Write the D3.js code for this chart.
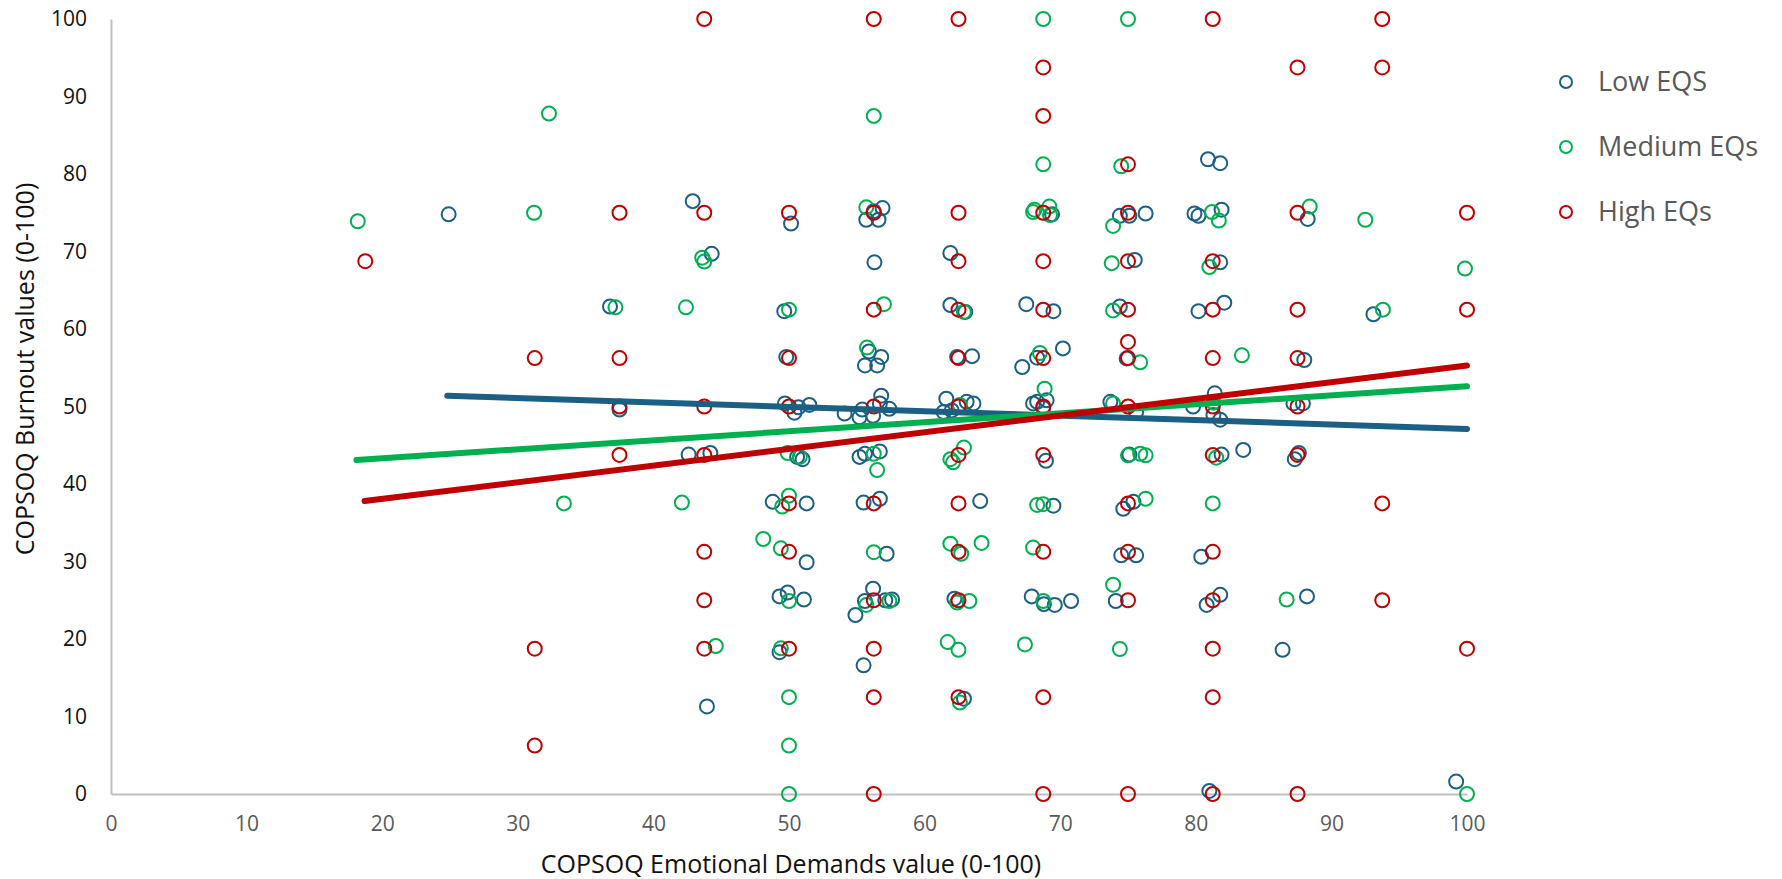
<!DOCTYPE html>
<html>
<head>
<meta charset="utf-8">
<script src="https://cdn.jsdelivr.net/npm/d3@7"></script>
<style>
  body { margin: 0; background: #fff; }
  svg { display: block; font-family: "Open Sans", sans-serif; }
</style>
</head>
<body>
<div id="chart"></div>
<script>
// data: [emotional demands, burnout]
var lowEQS = [
  [24.9,74.8],[42.9,76.5],[50.15,73.6],[44.3,69.7],[36.8,62.9],[49.65,62.3],[49.8,56.4],
  [37.5,49.6],[49.7,50.4],[50.4,49.2],[50.7,49.9],[51.5,50.2],[42.6,43.8],[44.2,44.0],
  [50.6,43.5],[51.0,43.2],[48.8,37.7],[51.3,37.5],[51.3,29.9],[49.3,25.5],[49.9,26.0],
  [51.1,25.1],[49.3,18.3],[43.95,11.3],[56.25,75.2],[56.9,75.6],[55.7,74.1],[56.6,74.1],
  [56.3,68.6],[61.9,69.8],[61.9,63.1],[63.0,62.2],[67.5,63.2],[55.9,57.1],[55.6,55.3],
  [56.8,56.4],[56.5,55.3],[62.4,56.4],[63.5,56.5],[67.2,55.1],[68.3,56.3],[70.2,57.5],
  [56.8,51.4],[54.1,49.1],[55.4,49.6],[55.2,48.6],[56.2,48.8],[57.4,49.7],[56.7,50.4],
  [61.6,51.0],[61.4,49.3],[62.0,49.5],[63.1,50.6],[63.6,50.4],[68.0,50.4],[55.2,43.5],
  [55.6,43.9],[56.7,44.2],[55.5,37.6],[56.7,38.1],[64.1,37.8],[57.2,31.0],[56.2,26.5],
  [55.6,24.9],[57.1,25.0],[57.6,25.1],[54.9,23.1],[62.2,25.2],[67.9,25.5],[55.5,16.6],
  [62.9,12.3],[69.4,74.8],[80.9,81.9],[81.8,81.4],[74.4,74.6],[75.1,74.6],[76.3,74.9],
  [79.9,74.9],[80.2,74.6],[81.9,75.4],[75.5,68.9],[81.8,68.6],[69.5,62.3],[74.4,62.9],
  [80.2,62.3],[82.1,63.4],[74.9,56.2],[68.3,50.6],[69.0,50.8],[68.75,49.8],[73.7,50.6],
  [75.6,49.3],[81.4,51.7],[79.8,50.0],[81.3,48.9],[81.8,48.3],[68.95,43.0],[75.1,43.8],
  [81.9,43.8],[83.5,44.4],[69.5,37.2],[74.65,36.8],[75.4,37.7],[74.5,30.8],[75.6,30.8],
  [80.4,30.6],[68.8,24.5],[69.6,24.4],[70.8,24.9],[74.1,24.9],[80.8,24.4],[81.8,25.7],
  [81.0,0.4],[88.25,74.2],[93.1,61.9],[88.0,56.0],[87.2,50.4],[87.9,50.4],[87.6,44.0],
  [87.3,43.2],[88.2,25.5],[86.4,18.6],[99.2,1.6]
];

var mediumEQs = [
  [32.3,87.8],[18.2,73.9],[31.2,75.0],[33.4,37.5],[43.6,69.2],[43.75,68.7],[37.2,62.8],
  [42.4,62.8],[50.0,62.5],[49.9,44.0],[50.8,43.5],[42.1,37.6],[49.5,37.1],[50.0,38.5],
  [48.1,32.9],[49.4,31.7],[50.0,24.9],[44.6,19.1],[49.4,18.8],[50.0,12.5],[50.0,6.25],
  [50.0,0],[56.25,87.5],[55.7,75.7],[68.0,75.1],[68.1,75.4],[69.2,75.8],[69.25,74.7],
  [57.0,63.2],[62.9,62.2],[55.75,57.6],[68.5,56.9],[62.6,50.2],[56.25,43.9],[56.5,41.8],
  [62.9,44.7],[61.9,43.2],[62.1,42.8],[68.3,37.3],[68.75,37.4],[56.25,31.2],[61.9,32.3],
  [62.7,31.0],[64.2,32.4],[68.0,31.8],[55.7,24.4],[57.4,24.9],[62.4,24.7],[63.3,24.9],
  [61.7,19.6],[62.5,18.6],[67.4,19.3],[62.6,11.8],[68.75,100],[75,100],[68.75,81.25],
  [74.5,81.0],[73.9,73.3],[81.2,75.1],[81.7,74.0],[73.8,68.5],[81.0,68.0],[73.9,62.4],
  [75.9,55.7],[83.4,56.6],[68.85,52.3],[73.9,50.4],[81.3,50.5],[75.0,43.7],[75.9,43.9],
  [76.3,43.7],[81.5,43.4],[76.3,38.1],[81.25,37.5],[68.75,24.9],[73.9,27.0],[74.4,18.7],
  [88.4,75.8],[92.5,74.1],[99.85,67.8],[93.8,62.5],[86.7,25.1],[100,0]
];

var highEQs = [
  [43.75,100],[56.25,100],[62.5,100],[81.25,100],[93.75,100],
  [68.75,93.75],[87.5,93.75],[93.75,93.75],[68.75,87.5],[75,81.25],
  [37.5,75],[43.75,75],[50,75],[56.25,75],[62.5,75],[68.75,75],[75,75],[87.5,75],[100,75],
  [18.75,68.75],[62.5,68.75],[68.75,68.75],[75,68.75],[81.25,68.75],
  [56.25,62.5],[62.5,62.5],[68.75,62.5],[75,62.5],[81.25,62.5],[87.5,62.5],[100,62.5],
  [75,58.33],
  [31.25,56.25],[37.5,56.25],[50,56.25],[62.5,56.25],[68.75,56.25],[75,56.25],[81.25,56.25],[87.5,56.25],
  [37.5,50],[43.75,50],[50,50],[56.25,50],[62.5,50],[68.75,50],[75,50],[81.25,50],[87.5,50],
  [37.5,43.75],[43.75,43.75],[62.5,43.75],[68.75,43.75],[81.25,43.75],[87.5,43.75],
  [50,37.5],[56.25,37.5],[62.5,37.5],[75,37.5],[93.75,37.5],
  [43.75,31.25],[50,31.25],[62.5,31.25],[68.75,31.25],[75,31.25],[81.25,31.25],
  [43.75,25],[56.25,25],[62.5,25],[75,25],[81.25,25],[93.75,25],
  [31.25,18.75],[43.75,18.75],[50,18.75],[56.25,18.75],[81.25,18.75],[100,18.75],
  [56.25,12.5],[62.5,12.5],[68.75,12.5],[81.25,12.5],
  [31.25,6.25],
  [56.25,0],[68.75,0],[75,0],[81.25,0],[87.5,0]
];

// linear trendline end points
var lowTrend = [[24.8,51.4],[100,47.1]];
var mediumTrend = [[18.1,43.1],[100,52.6]];
var highTrend = [[18.7,37.8],[100,55.3]];

var seriesNames = ["Low EQS", "Medium EQs", "High EQs"];
var seriesColors = ["#1b5f84", "#00b050", "#c00000"];
var xTicks = [0,10,20,30,40,50,60,70,80,90,100];
var yTicks = [0,10,20,30,40,50,60,70,80,90,100];

w = 1782;
h = 879;

///////// SCALES /////////
var xscale = d3.scaleLinear().domain([0, 100]).range([111, 1467]);
var yscale = d3.scaleLinear().domain([0, 100]).range([794, 19]);

svg = d3.select("#chart")
        .append("svg")
        .attr("width", w)
        .attr("height", h);

///////// AXES /////////
var xaxis = d3.axisBottom(xscale).tickValues(xTicks).tickSize(0).tickSizeOuter(0).tickPadding(22);
var yaxis = d3.axisLeft(yscale).tickValues(yTicks).tickSize(0).tickSizeOuter(0).tickPadding(24);

var gx = svg.append("g")
    .attr("transform", "translate(0," + yscale(0) + ")")
    .call(xaxis);
gx.selectAll("text")
    .attr("font-family", "Open Sans, sans-serif")
    .attr("font-size", "21px")
    .attr("fill", "#595959");

var gy = svg.append("g")
    .attr("transform", "translate(" + xscale(0) + ",0)")
    .call(yaxis);
gy.selectAll("text")
    .attr("font-family", "Open Sans, sans-serif")
    .attr("font-size", "21px")
    .attr("fill", "#111");

svg.selectAll(".domain")
    .attr("stroke", "#bfbfbf")
    .attr("stroke-width", 2);

///////// POINTS /////////
var allSeries = [lowEQS, mediumEQs, highEQs];

allSeries.forEach(function(data, i) {
    svg.append("g")
        .selectAll("circle")
        .data(data)
        .enter()
        .append("circle")
        .attr("cx", function(d) { return xscale(d[0]); })
        .attr("cy", function(d) { return yscale(d[1]); })
        .attr("r", 7)
        .attr("fill", "none")
        .attr("stroke", seriesColors[i])
        .attr("stroke-width", 2);
});

///////// TRENDLINES /////////
var line = d3.line()
    .x(function(d) { return xscale(d[0]); })
    .y(function(d) { return yscale(d[1]); });

[lowTrend, mediumTrend, highTrend].forEach(function(t, i) {
    svg.append("path")
        .datum(t)
        .attr("d", line)
        .attr("fill", "none")
        .attr("stroke", seriesColors[i])
        .attr("stroke-width", 6)
        .attr("stroke-linecap", "round");
});

///////// TITLES /////////
svg.append("text")
    .attr("x", 791)
    .attr("y", 873)
    .attr("text-anchor", "middle")
    .attr("font-size", "25px")
    .attr("fill", "#111")
    .text("COPSOQ Emotional Demands value (0-100)");

svg.append("text")
    .attr("transform", "translate(34,369) rotate(-90)")
    .attr("text-anchor", "middle")
    .attr("font-size", "25px")
    .attr("fill", "#111")
    .text("COPSOQ Burnout values (0-100)");

///////// LEGEND /////////
var legend = svg.append("g")
    .selectAll("g")
    .data(seriesNames)
    .enter()
    .append("g")
    .attr("transform", function(d, i) { return "translate(1566," + (82 + i * 65) + ")"; });

legend.append("circle")
    .attr("r", 6)
    .attr("fill", "none")
    .attr("stroke", function(d, i) { return seriesColors[i]; })
    .attr("stroke-width", 2);

legend.append("text")
    .attr("x", 32)
    .attr("dy", "0.35em")
    .attr("font-size", "27px")
    .attr("fill", "#595959")
    .text(function(d) { return d; });
</script>
</body>
</html>
